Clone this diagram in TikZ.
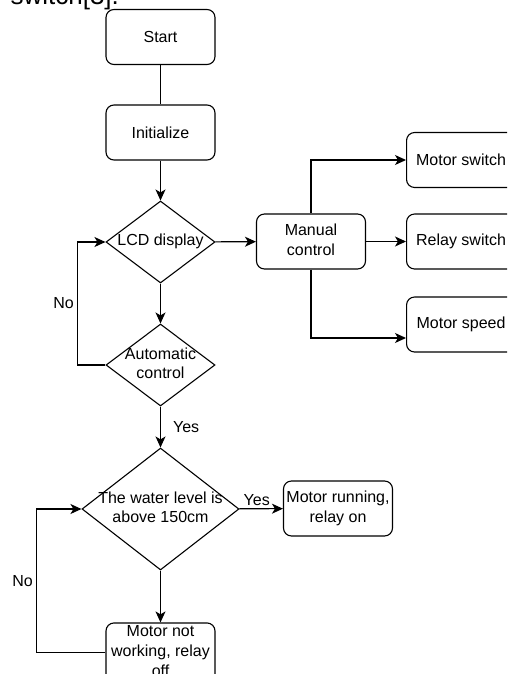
\documentclass[tikz,border=0pt]{standalone}
\usepackage{fontspec}
\setmainfont{Liberation Sans}
\usetikzlibrary{shapes.geometric,arrows.meta}
\newcommand{\lines}[1]{\makebox[0pt]{\begin{tabular}{@{}c@{}}#1\end{tabular}}}

\begin{document}
\begin{tikzpicture}[x=1pt,y=-1pt,line width=1.1pt,
  every node/.style={font=\fontsize{16}{19.7}\selectfont},
  box/.style={draw,rounded corners=8pt,minimum width=109pt,minimum height=55pt,inner sep=0pt},
  decision/.style={draw,diamond,inner sep=0pt,minimum width=109pt,minimum height=82pt},
  arr/.style={-{Stealth[length=11pt,width=10pt,inset=3pt]}},
  tag/.style={inner sep=3pt}]
\useasboundingbox (0,0) rectangle (507,674);
\clip (0,0) rectangle (507,674);
\node[anchor=base west,inner sep=0pt,font=\fontsize{26}{30}\selectfont] (prev) at (10,5) {switch[3].};
\node[box] (start) at (160.5,37) {Start};
\node[box] (init) at (160.5,132.5) {Initialize};
\node[decision] (lcd) at (160.5,242) {\lines{LCD display}};
\node[decision] (auto) at (160.5,365) {\lines{Automatic\\control}};
\node[decision,minimum width=157pt,minimum height=122pt] (water) at (160.5,509) {\lines{The water level is\\above 150cm}};
\node[box] (off) at (160.5,652.5) {\lines{Motor not\\working, relay\\off}};
\node[box] (manual) at (311,241.5) {\lines{Manual\\control}};
\node[box,anchor=west] (mswitch) at (406,160) {Motor switch};
\node[box,anchor=west] (rswitch) at (406,241.5) {Relay switch};
\node[box,anchor=west] (mspeed) at (406,324.5) {Motor speed};
\node[box] (run) at (338,508.5) {\lines{Motor running,\\relay on}};
\draw (start) -- (init);
\draw[arr] (init) -- (lcd);
\draw[arr] (lcd) -- (manual);
\draw[arr] (manual.north) |- (mswitch.west);
\draw[arr] (manual) -- (rswitch);
\draw[arr] (manual.south) |- ([yshift=-13.5pt]mspeed.west);
\draw[arr] (lcd) -- (auto);
\draw[arr] (auto.west) -- ++(-28,0) |- node[tag,pos=0.25,left] (no1) {No} (lcd.west);
\draw[arr] (auto) -- node[tag,right=9pt] (yes1) {Yes} (water);
\draw[arr] (water) -- node[tag,above,pos=0.4] (yes2) {Yes} (run);
\draw[arr] (water) -- (off);
\draw[arr] (off.west) -- ++(-69,0) |- node[tag,pos=0.25,left] (no2) {No} (water.west);
\end{tikzpicture}
\end{document}
